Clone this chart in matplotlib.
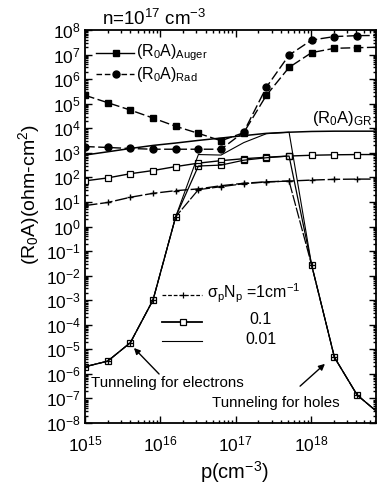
import matplotlib
matplotlib.use("Agg")
import matplotlib.pyplot as plt
from matplotlib.ticker import LogLocator, NullFormatter
from matplotlib.lines import Line2D

plt.rcParams['font.family'] = ['Liberation Sans', 'DejaVu Sans']
plt.rcParams['mathtext.fontset'] = 'custom'
plt.rcParams['mathtext.rm'] = 'Liberation Sans'
plt.rcParams['mathtext.it'] = 'Liberation Sans:italic'
plt.rcParams['mathtext.default'] = 'regular'

# ---- data ----
p = [1.0e15, 2.0e15, 4.0e15, 8.0e15, 1.6e16, 3.2e16, 6.4e16, 1.28e17,
     2.56e17, 5.12e17, 1.02e18, 2.05e18, 4.1e18, 8.2e18]

r_auger = [2.2e5, 1.1e5, 5.5e4, 2.6e4, 1.2e4, 6.2e3, 3.1e3, 6.6e3,
           2.2e5, 3.0e6, 1.2e7, 1.8e7, 1.9e7, 2.0e7]
r_rad = [1.8e3, 1.65e3, 1.5e3, 1.4e3, 1.4e3, 1.4e3, 1.4e3, 7.0e3,
         4.7e5, 9.5e6, 3.9e7, 5.4e7, 5.9e7, 6.0e7]

# generation-recombination components for sigma_p N_p = 1, 0.1, 0.01
gr_1 = [7.1, 9.5, 15.5, 22.4, 28.8, 33.9, 45.7, 57.5, 66.1, 70.8, 77.6, 83.2, 85.1, 85.1]
gr_01 = [72, 95, 141, 190, 275, 380, 480, 575, 660, 740, 795, 830, 850, 850]
gr_001 = [810, 1100, 1500, 2000, 2500, 3200, 4000, 5000, 6200, 6900, 7400, 7600, 7600, 7600]

# total R0A including tunneling
tot_1 = [1.95e-6, 3.3e-6, 1.86e-5, 1.02e-3, 2.5, 31.6, 41.7, 55.0, 64.6, 70.8,
         2.7e-2, 4.7e-6, 1.38e-7, 2.3e-8]
tot_01 = [1.95e-6, 3.3e-6, 1.86e-5, 1.02e-3, 2.5, 290, 316, 500, 630, 740,
          2.7e-2, 4.7e-6, 1.38e-7, 2.3e-8]
tot_001 = [1.95e-6, 3.3e-6, 1.86e-5, 1.02e-3, 2.5, 850, 810, 2600, 6000, 6900,
           2.7e-2, 4.7e-6, 1.38e-7, 2.3e-8]

W, H = 377, 487
fig = plt.figure(figsize=(W / 100, H / 100), dpi=100)
ax = fig.add_axes([85 / W, 1 - 423 / H, (376 - 85) / W, (423 - 30) / H])

k = 'black'
dash_l = (0, (7, 2.5))
# Auger and radiative
ax.plot(p, r_auger, color=k, lw=1.0, ls=dash_l, marker='s', ms=4.3, mfc=k, mec=k)
ax.plot(p, r_rad, color=k, lw=1.0, ls=dash_l, marker='o', ms=5.0, mfc=k, mec=k)
# GR components
ax.plot(p, gr_1, color=k, lw=1.0, ls=(0, (9, 2)), marker='+', ms=5, mew=1.0)
ax.plot(p, gr_01, color=k, lw=1.0, ls='-', marker='s', ms=4.5, mfc='white', mec=k, mew=0.9)
ax.plot(p, gr_001, color=k, lw=1.1, ls='-')
# totals
ax.plot(p, tot_1, color=k, lw=0.9, ls=(0, (9, 1.5)), marker='+', ms=5, mew=0.9)
ax.plot(p, tot_01, color=k, lw=0.9, ls='-', marker='s', ms=4.2, mfc='none', mec=k, mew=0.9)
ax.plot(p, tot_001, color=k, lw=0.8, ls='-')

ax.set_xscale('log')
ax.set_yscale('log')
ax.set_xlim(1e15, 7.3e18)
ax.set_ylim(1e-8, 1e8)

ax.xaxis.set_major_locator(LogLocator(base=10, numticks=10))
ax.xaxis.set_minor_locator(LogLocator(base=10, subs=range(2, 10), numticks=40))
ax.yaxis.set_major_locator(LogLocator(base=10, numticks=20))
ax.yaxis.set_minor_locator(LogLocator(base=10, subs=range(2, 10), numticks=40))
ax.xaxis.set_minor_formatter(NullFormatter())
ax.yaxis.set_minor_formatter(NullFormatter())

ax.tick_params(which='both', direction='in', top=True, right=True, width=1.0,
               labelsize=12.5, colors=k)
ax.tick_params(which='major', length=5)
ax.tick_params(which='minor', length=2.5)
ax.tick_params(axis='x', pad=8)
ax.tick_params(axis='y', pad=3)
for s in ax.spines.values():
    s.set_linewidth(1.3)

# legends drawn in axes coordinates
def axpt(x, y):
    return ((x - 85) / (376 - 85), (423 - y) / (423 - 30))

def legend_line(x0, x1, y, **kw):
    a0 = axpt(x0, y)
    a1 = axpt(x1, y)
    ax.add_line(Line2D([a0[0], a1[0]], [a0[1], a0[1]], transform=ax.transAxes, color=k, **kw))

def legend_marker(x, y, **kw):
    a = axpt(x, y)
    ax.add_line(Line2D([a[0]], [a[1]], transform=ax.transAxes, color=k, ls='none', **kw))

legend_line(96, 134, 53, lw=1.0)
legend_marker(116, 53, marker='s', ms=4.3, mfc=k, mec=k)
legend_line(96, 134, 74, lw=1.0, ls=(0, (4, 2)))
legend_marker(116, 74, marker='o', ms=5.0, mfc=k, mec=k)
t = axpt(136, 53)
ax.text(t[0], t[1], '(R$_0$A)$_{Auger}$', transform=ax.transAxes, fontsize=11.5,
        va='center', ha='left')
t = axpt(136, 74)
ax.text(t[0], t[1], '(R$_0$A)$_{Rad}$', transform=ax.transAxes, fontsize=11.5,
        va='center', ha='left')

legend_line(162, 202, 295, lw=0.9, ls=(0, (3, 1.5)))
legend_marker(183, 295, marker='+', ms=5, mew=0.9)
legend_line(162, 202, 322, lw=1.3)
legend_marker(183, 322, marker='s', ms=4.5, mfc='white', mec=k, mew=0.9)
legend_line(162, 202, 341, lw=0.8)
t = axpt(207, 293)
ax.text(t[0], t[1], 'σ$_p$N$_p$ =1cm$^{-1}$', transform=ax.transAxes, fontsize=11.5,
        va='center', ha='left')
t = axpt(261, 320)
ax.text(t[0], t[1], '0.1', transform=ax.transAxes, fontsize=11.5, va='center', ha='center')
t = axpt(261, 340)
ax.text(t[0], t[1], '0.01', transform=ax.transAxes, fontsize=11.5, va='center', ha='center')

t = axpt(312, 118)
ax.text(t[0], t[1], '(R$_0$A)$_{GR}$', transform=ax.transAxes, fontsize=12,
        va='center', ha='left')

# annotations
t = axpt(91, 383)
ax.text(t[0], t[1], 'Tunneling for electrons', transform=ax.transAxes, fontsize=10.8,
        va='center', ha='left')
t = axpt(212, 403)
ax.text(t[0], t[1], 'Tunneling for holes', transform=ax.transAxes, fontsize=10.8,
        va='center', ha='left')
ax.annotate('', xy=axpt(132, 346), xytext=axpt(161, 376), xycoords='axes fraction',
            textcoords='axes fraction',
            arrowprops=dict(arrowstyle='-|>', color=k, lw=1.0, mutation_scale=9))
ax.annotate('', xy=axpt(327, 362), xytext=axpt(298, 388), xycoords='axes fraction',
            textcoords='axes fraction',
            arrowprops=dict(arrowstyle='-|>', color=k, lw=1.0, mutation_scale=9))

fig.text(102 / W, 1 - 25 / H, 'n=10$^{17}$ cm$^{-3}$', fontsize=13.5, ha='left', va='baseline')
fig.text(29 / W, 1 - 195 / H, '(R$_0$A)(ohm-cm$^2$)', rotation=90, fontsize=14,
         ha='center', va='center')
fig.text(234 / W, 1 - 472 / H, 'p(cm$^{-3}$)', fontsize=14.5, ha='center', va='center')

fig.savefig('out.png', dpi=100)
